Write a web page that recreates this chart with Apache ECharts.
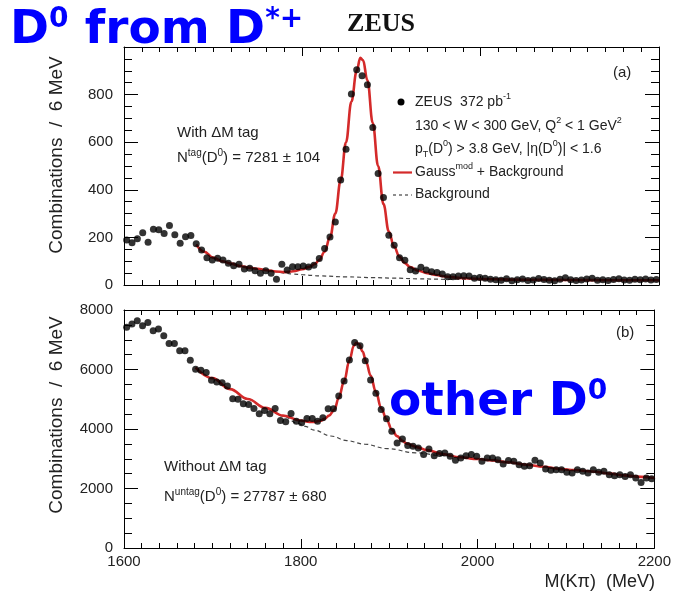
<!DOCTYPE html>
<html>
<head>
<meta charset="utf-8">
<script src="https://cdn.jsdelivr.net/npm/echarts@6/dist/echarts.min.js"></script>
<style>
  html, body { margin: 0; padding: 0; background: #fff; }
  #chart { width: 674px; height: 598px; }
</style>
</head>
<body>
<div id="chart"></div>
<script>
// Invariant-mass histograms, 6 MeV bins from 1600 to 2200 MeV
const massMin = 1600;
const massMax = 2200;
const binWidth = 6;
const massTickLabels = [1600, 1800, 2000, 2200];
const taggedTickLabels = [0, 200, 400, 600, 800];
const untaggedTickLabels = [0, 2000, 4000, 6000, 8000];

// (a) candidates with a Delta-M tag: combinations per bin
const taggedCounts = [
  189, 178, 194, 220, 180, 234, 232, 216, 250, 211, 175, 203, 208, 173, 147, 115, 105, 112, 105, 91,
  81, 87, 67, 70, 60, 49, 60, 49, 24, 87, 63, 77, 77, 80, 76, 83, 111, 153, 202, 265,
  441, 570, 803, 904, 879, 841, 662, 469, 368, 209, 167, 115, 104, 64, 59, 75, 63, 56, 52, 46,
  35, 35, 38, 39, 38, 28, 31, 28, 24, 22, 20, 26, 18, 22, 25, 19, 21, 27, 23, 20,
  18, 24, 30, 22, 19, 21, 25, 28, 20, 22, 19, 23, 26, 21, 20, 24, 22, 25, 21, 23
];

// (a) fitted Gauss^mod + background, [mass, combinations]
const taggedFit = [
  [1681, 170], [1690, 140], [1700, 115], [1710, 100], [1720, 90], [1730, 80], [1740, 73], [1750, 68],
  [1760, 62], [1770, 57], [1780, 54], [1790, 58], [1800, 66], [1808, 76], [1814, 88], [1819, 105],
  [1825, 140], [1831, 200], [1837, 300], [1843, 440], [1849, 600], [1855, 770], [1861, 900], [1865, 955],
  [1868, 945], [1873, 860], [1879, 680], [1885, 500], [1891, 340], [1897, 225], [1903, 160], [1909, 118],
  [1915, 92], [1921, 75], [1930, 60], [1940, 50], [1950, 42], [1960, 36], [1975, 30], [1990, 27],
  [2000, 25], [2050, 22], [2100, 21], [2150, 20], [2200, 20]
];

// (a) background component of the fit
const taggedBackground = [
  [1681, 170], [1690, 140], [1700, 115], [1710, 100], [1720, 90], [1730, 80], [1740, 73], [1750, 68],
  [1760, 62], [1770, 56], [1780, 50], [1790, 46], [1800, 43], [1820, 38], [1850, 34], [1880, 31],
  [1900, 29], [1930, 26], [1960, 24], [2000, 23], [2050, 22], [2100, 21], [2150, 20], [2200, 20]
];

// (b) all candidates, no Delta-M tag
const untaggedCounts = [
  7416, 7527, 7640, 7470, 7584, 7302, 7359, 7133, 6875, 6875, 6627, 6627, 6312, 6008, 5975, 5897, 5637, 5580, 5558, 5446,
  5020, 4996, 4849, 4827, 4692, 4512, 4624, 4512, 4692, 4287, 4242, 4523, 4264, 4208, 4354, 4354, 4264, 4377, 4681, 4681,
  5107, 5614, 6323, 6909, 6796, 6290, 5648, 5198, 4658, 4343, 3927, 3533, 3668, 3443, 3420, 3364, 3139, 3331, 3105, 3173,
  3196, 3082, 2947, 3028, 3105, 3139, 3082, 2913, 3028, 3028, 2970, 2825, 2937, 2913, 2802, 2745, 2768, 2947, 2858, 2656,
  2610, 2633, 2633, 2543, 2520, 2633, 2576, 2520, 2633, 2543, 2576, 2464, 2430, 2464, 2407, 2464, 2353, 2205, 2353, 2329
];

// (b) fitted Gauss^mod + background
const untaggedFit = [
  [1681, 6060], [1700, 5710], [1720, 5340], [1740, 5010], [1760, 4710], [1780, 4450], [1800, 4285], [1810, 4240],
  [1816, 4240], [1822, 4275], [1827, 4340], [1832, 4450], [1838, 4650], [1843, 5050], [1849, 5600], [1855, 6300],
  [1860, 6800], [1863, 6900], [1866, 6850], [1870, 6600], [1874, 6250], [1879, 5800], [1885, 5250], [1891, 4700],
  [1897, 4330], [1903, 3980], [1909, 3760], [1915, 3600], [1920, 3510], [1930, 3400], [1943, 3290], [1960, 3160],
  [1980, 3050], [2000, 2990], [2017, 2945], [2035, 2880], [2055, 2800], [2075, 2730], [2092, 2660], [2110, 2620],
  [2130, 2570], [2150, 2500], [2166, 2440], [2185, 2390], [2200, 2350]
];

// (b) background component of the fit
const untaggedBackground = [
  [1681, 6060], [1700, 5710], [1720, 5340], [1740, 5010], [1760, 4710], [1780, 4430], [1797, 4190], [1805, 4085],
  [1815, 3965], [1834, 3765], [1852, 3610], [1872, 3490], [1898, 3340], [1930, 3200], [1960, 3110], [1980, 3045],
  [2000, 2985], [2017, 2940], [2035, 2875], [2055, 2795], [2075, 2725], [2092, 2655], [2110, 2615], [2130, 2565],
  [2150, 2495], [2166, 2435], [2185, 2385], [2200, 2345]
];

const FONT = '"Liberation Sans", Arial, Helvetica, sans-serif';
const BOLD = '"DejaVu Sans", Verdana, sans-serif';
const INK = '#222';
const BLUE = '#0000ff';
const FIT_RED = '#d42a2a';

const binCenters = taggedCounts.map((_, i) => massMin + binWidth * (i + 0.5));
const taggedPoints = taggedCounts.map((v, i) => [binCenters[i], v]);
const untaggedPoints = untaggedCounts.map((v, i) => [binCenters[i], v]);

function massAxis(gridIndex, position, showLabels) {
  return {
    type: 'value', gridIndex, position,
    min: massMin, max: massMax, interval: 200,
    axisLine: { show: true, onZero: false, lineStyle: { color: '#000', width: 1 } },
    axisTick: { show: true, inside: true, length: 9, lineStyle: { color: '#000' } },
    minorTick: { show: true, splitNumber: 10, length: 5, lineStyle: { color: '#000' } },
    splitLine: { show: false },
    minorSplitLine: { show: false },
    axisLabel: {
      show: showLabels, margin: 6, color: INK, fontSize: 15, fontFamily: FONT,
      formatter: v => massTickLabels.includes(v) ? String(v) : ''
    }
  };
}

function countAxis(gridIndex, position, max, interval, labels, showLabels) {
  return {
    type: 'value', gridIndex, position,
    min: 0, max, interval,
    axisLine: { show: true, onZero: false, lineStyle: { color: '#000', width: 1 } },
    axisTick: { show: true, inside: true, length: 14, lineStyle: { color: '#000' } },
    minorTick: { show: true, splitNumber: 4, length: 8, lineStyle: { color: '#000' } },
    splitLine: { show: false },
    minorSplitLine: { show: false },
    axisLabel: {
      show: showLabels, margin: 11, color: INK, fontSize: 15, fontFamily: FONT,
      formatter: v => labels.includes(v) ? String(v) : ''
    }
  };
}

// rich-text fragments: normal, superscript and subscript
const richSet = {
  n: { fontSize: 14, fontFamily: FONT, fill: INK, lineHeight: 20 },
  sup: { fontSize: 9, fontFamily: FONT, fill: INK, lineHeight: 8, verticalAlign: 'top' },
  sub: { fontSize: 9, fontFamily: FONT, fill: INK, lineHeight: 8, verticalAlign: 'bottom' },
  m: { fontSize: 15, fontFamily: FONT, fill: INK, lineHeight: 20 },
  ms: { fontSize: 10, fontFamily: FONT, fill: INK, lineHeight: 8, verticalAlign: 'top' },
  b: { fontSize: 47, fontFamily: BOLD, fontWeight: 'bold', fill: BLUE, lineHeight: 50 },
  bs: { fontSize: 28, fontFamily: BOLD, fontWeight: 'bold', fill: BLUE, lineHeight: 30, verticalAlign: 'top' }
};

function label(x, y, text) {
  return {
    type: 'text', x, y, silent: true,
    style: { text, rich: richSet, align: 'left', verticalAlign: 'middle', font: '14px ' + FONT, fill: INK }
  };
}

const graphics = [
  label(10, 31, '{b|D}{bs|0}{b| from D}{bs|*+}'),
  {
    type: 'text', x: 381, y: 24, silent: true,
    style: { text: 'ZEUS', align: 'center', verticalAlign: 'middle', font: 'bold 26px "Liberation Serif", "Times New Roman", serif', fill: '#111' }
  },
  label(389, 403, '{b|other D}{bs|0}'),
  // y-axis titles
  {
    type: 'text', x: 57, y: 155, rotation: Math.PI / 2, silent: true,
    style: { text: 'Combinations  /  6 MeV', align: 'center', verticalAlign: 'middle', font: '19px ' + FONT, fill: INK }
  },
  {
    type: 'text', x: 57, y: 415, rotation: Math.PI / 2, silent: true,
    style: { text: 'Combinations  /  6 MeV', align: 'center', verticalAlign: 'middle', font: '19px ' + FONT, fill: INK }
  },
  // x-axis title
  {
    type: 'text', x: 655, y: 582, silent: true,
    style: { text: 'M(K\u03c0)  (MeV)', align: 'right', verticalAlign: 'middle', font: '18px ' + FONT, fill: INK }
  },
  // panel tags
  label(613, 73, '{m|(a)}'),
  label(616, 333, '{m|(b)}'),
  // panel (a) annotations
  label(177, 133, '{m|With \u0394M tag}'),
  label(177, 158, '{m|N}{ms|tag}{m|(D}{ms|0}{m|) = 7281 \u00b1 104}'),
  // panel (b) annotations
  label(164, 467, '{m|Without \u0394M tag}'),
  label(164, 497, '{m|N}{ms|untag}{m|(D}{ms|0}{m|) = 27787 \u00b1 680}'),
  // legend of panel (a)
  { type: 'circle', silent: true, shape: { cx: 401, cy: 102, r: 3.5 }, style: { fill: '#000' } },
  label(415, 102, '{n|ZEUS  372 pb}{sup|-1}'),
  label(415, 126, '{n|130 < W < 300 GeV, Q}{sup|2}{n| < 1 GeV}{sup|2}'),
  label(415, 149, '{n|p}{sub|T}{n|(D}{sup|0}{n|) > 3.8 GeV, |\u03b7(D}{sup|0}{n|)| < 1.6}'),
  { type: 'line', silent: true, shape: { x1: 393, y1: 172.5, x2: 412, y2: 172.5 }, style: { stroke: FIT_RED, lineWidth: 2.2 } },
  label(415, 172, '{n|Gauss}{sup|mod}{n| + Background}'),
  { type: 'line', silent: true, shape: { x1: 393, y1: 195, x2: 412, y2: 195 }, style: { stroke: '#444', lineWidth: 1.2, lineDash: [3, 3] } },
  label(415, 194, '{n|Background}')
];

const option = {
  animation: false,
  backgroundColor: '#fff',
  grid: [
    { left: 124, right: 15, top: 47, height: 238 },
    { left: 124, right: 15, top: 310, height: 238 }
  ],
  xAxis: [
    massAxis(0, 'bottom', false),
    massAxis(0, 'top', false),
    massAxis(1, 'bottom', true),
    massAxis(1, 'top', false)
  ],
  yAxis: [
    countAxis(0, 'left', 1000, 200, taggedTickLabels, true),
    countAxis(0, 'right', 1000, 200, taggedTickLabels, false),
    countAxis(1, 'left', 8000, 2000, untaggedTickLabels, true),
    countAxis(1, 'right', 8000, 2000, untaggedTickLabels, false)
  ],
  series: [
    {
      type: 'line', xAxisIndex: 0, yAxisIndex: 0, data: taggedBackground,
      symbol: 'none', smooth: 0.4, smoothMonotone: 'x', z: 1,
      lineStyle: { color: '#444', width: 1.2, type: [4, 3] }
    },
    {
      type: 'line', xAxisIndex: 0, yAxisIndex: 0, data: taggedFit,
      symbol: 'none', smooth: 0.4, smoothMonotone: 'x', z: 2,
      lineStyle: { color: FIT_RED, width: 2.6 }
    },
    {
      type: 'scatter', xAxisIndex: 0, yAxisIndex: 0, data: taggedPoints,
      symbolSize: 7, z: 3, itemStyle: { color: '#000' }
    },
    {
      type: 'line', xAxisIndex: 2, yAxisIndex: 2, data: untaggedBackground,
      symbol: 'none', smooth: 0.4, smoothMonotone: 'x', z: 1,
      lineStyle: { color: '#444', width: 1.2, type: [4, 3] }
    },
    {
      type: 'line', xAxisIndex: 2, yAxisIndex: 2, data: untaggedFit,
      symbol: 'none', smooth: 0.4, smoothMonotone: 'x', z: 2,
      lineStyle: { color: FIT_RED, width: 2.6 }
    },
    {
      type: 'scatter', xAxisIndex: 2, yAxisIndex: 2, data: untaggedPoints,
      symbolSize: 7, z: 3, itemStyle: { color: '#000' }
    }
  ],
  graphic: graphics
};

const chart = echarts.init(document.getElementById('chart'), null, { renderer: 'canvas' });
chart.setOption(option);
</script>
</body>
</html>
